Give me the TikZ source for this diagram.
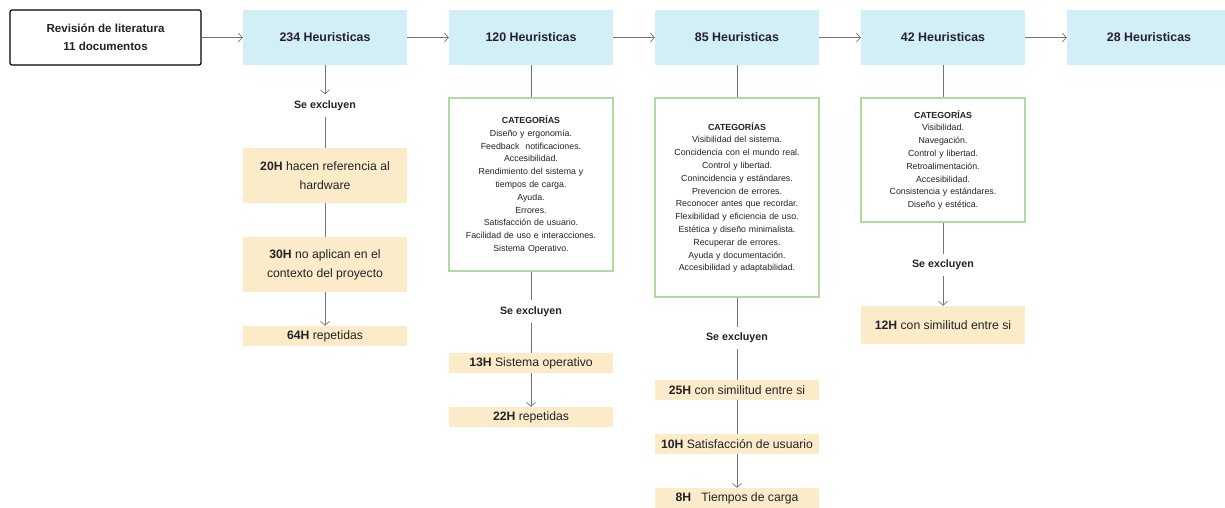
\documentclass[tikz,border=0pt]{standalone}
\usepackage{fontspec}
\setmainfont{Liberation Sans}
\usepackage{xcolor}
\usetikzlibrary{arrows.meta}
\definecolor{heurblue}{RGB}{210,238,247}
\definecolor{exclyellow}{RGB}{251,235,200}
\definecolor{catgreen}{RGB}{176,218,158}
\definecolor{conngray}{RGB}{115,115,115}
\definecolor{txtdark}{RGB}{35,35,40}

\tikzset{
  heur/.style={fill=heurblue,inner sep=0,minimum width=164pt,minimum height=55pt,text=txtdark,font=\bfseries\fontsize{12.4}{15}\selectfont},
  excl/.style={fill=exclyellow,inner sep=0,minimum width=164pt,minimum height=20pt,text=txtdark,align=center,font=\fontsize{12.2}{19}\selectfont},
  catbox/.style={draw=catgreen,line width=1.15pt,fill=white,inner sep=0,minimum width=164pt,text width=162pt,align=center,text=txtdark,font=\fontsize{8.8}{12.8}\selectfont},
  sexcl/.style={inner xsep=2pt,inner ysep=6pt,text=txtdark,font=\bfseries\fontsize{10.7}{13}\selectfont},
  conn/.style={draw=conngray,line width=0.7pt},
  arr/.style={conn,-{Straight Barb[length=4pt,width=9pt,line width=0.7pt]}}
}

\begin{document}
\begin{tikzpicture}[x=1pt,y=-1pt]
  \useasboundingbox (0,0) rectangle (1225,508);
  % top row
  \node[draw=black,line width=1.2pt,rounded corners=2pt,fill=white,minimum width=191pt,minimum height=55pt,inner sep=0,align=center,text=txtdark,font=\bfseries\fontsize{11.6}{18}\selectfont] (lit) at (105.5,37.5) {Revisión de literatura\\11 documentos};
  \node[heur] (h234) at (325,37.5) {234 Heuristicas};
  \node[heur] (h120) at (531,37.5) {120 Heuristicas};
  \node[heur] (h85) at (737,37.5) {85 Heuristicas};
  \node[heur] (h42) at (943,37.5) {42 Heuristicas};
  \node[heur] (h28) at (1149,37.5) {28 Heuristicas};
  \draw[arr] (lit) -- (h234);
  \draw[arr] (h234) -- (h120);
  \draw[arr] (h120) -- (h85);
  \draw[arr] (h85) -- (h42);
  \draw[arr] (h42) -- (h28);

  % column 234
  \node[sexcl] (sx234) at (325,105.5) {Se excluyen};
  \node[excl,minimum height=55pt] (e20) at (325,175.5) {\textbf{20H} hacen referencia al\\hardware};
  \node[excl,minimum height=55pt] (e30) at (325,264.5) {\textbf{30H} no aplican en el\\contexto del proyecto};
  \node[excl] (e64) at (325,336) {\textbf{64H} repetidas};
  \draw[arr] (h234) -- (sx234);
  \draw[conn] (sx234) -- (e20);
  \draw[conn] (e20) -- (e30);
  \draw[arr] (e30) -- (e64);

  % column 120
  \node[catbox,minimum height=173pt] (c120) at (531,184.5) {\textbf{CATEGORÍAS}\\Diseño y ergonomía.\\Feedback~ notificaciones.\\Accesibilidad.\\Rendimiento del sistema y\\tiempos de carga.\\Ayuda.\\Errores.\\Satisfacción de usuario.\\Facilidad de uso e interacciones.\\Sistema Operativo.};
  \node[sexcl] (sx120) at (531,311.5) {Se excluyen};
  \node[excl] (e13) at (531,363) {\textbf{13H} Sistema operativo};
  \node[excl] (e22) at (531,417) {\textbf{22H} repetidas};
  \draw[conn] (h120) -- (c120);
  \draw[conn] (c120) -- (sx120);
  \draw[conn] (sx120) -- (e13);
  \draw[arr] (e13) -- (e22);

  % column 85
  \node[catbox,minimum height=199pt] (c85) at (737,197.5) {\textbf{CATEGORÍAS}\\Visibilidad del sistema.\\Concidencia con el mundo real.\\Control y libertad.\\Conincidencia y estándares.\\Prevencion de errores.\\Reconocer antes que recordar.\\Flexibilidad y eficiencia de uso.\\Estética y diseño minimalista.\\Recuperar de errores.\\Ayuda y documentación.\\Accesibilidad y adaptabilidad.};
  \node[sexcl] (sx85) at (737,338) {Se excluyen};
  \node[excl] (e25) at (737,390) {\textbf{25H} con similitud entre si};
  \node[excl] (e10) at (737,444) {\textbf{10H} Satisfacción de usuario};
  \node[excl] (e8) at (737,498) {\textbf{8H}~~ Tiempos de carga};
  \draw[conn] (h85) -- (c85);
  \draw[conn] (c85) -- (sx85);
  \draw[conn] (sx85) -- (e25);
  \draw[conn] (e25) -- (e10);
  \draw[arr] (e10) -- (e8);

  % column 42
  \node[catbox,minimum height=124pt] (c42) at (943,160) {\textbf{CATEGORÍAS}\\Visibilidad.\\Navegación.\\Control y libertad.\\Retroalimentación.\\Accesibilidad.\\Consistencia y estándares.\\Diseño y estética.};
  \node[sexcl] (sx42) at (943,265) {Se excluyen};
  \node[excl,minimum height=38pt] (e12) at (943,325) {\textbf{12H} con similitud entre si};
  \draw[conn] (h42) -- (c42);
  \draw[conn] (c42) -- (sx42);
  \draw[arr] (sx42) -- (e12);
\end{tikzpicture}
\end{document}
